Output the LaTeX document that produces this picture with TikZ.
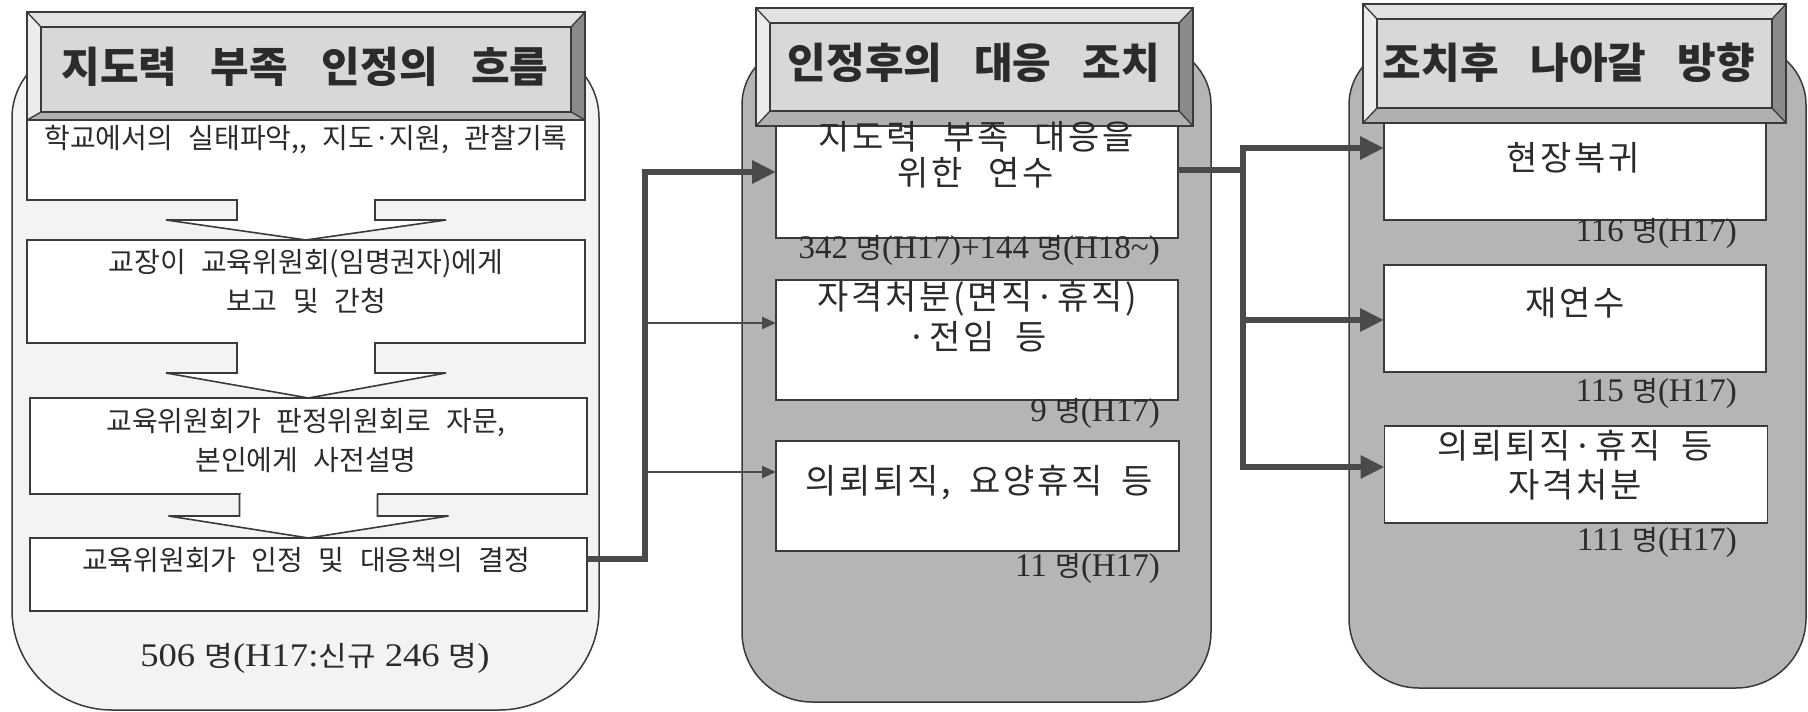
\documentclass[tikz,border=0pt]{standalone}
\usepackage{graphicx}
\usepackage{fontspec}
\setmainfont{Liberation Serif}
\newfontfamily\kf{Noto Sans CJK KR}
\newfontfamily\kft{Noto Sans CJK KR}[LetterSpace=8]
\usetikzlibrary{arrows.meta,calc}
\definecolor{pnl}{HTML}{B5B5B5}
\definecolor{pnll}{HTML}{F3F3F3}
\definecolor{edge}{HTML}{3A3A3A}
\definecolor{arr}{HTML}{4A4A4A}
\definecolor{txt}{HTML}{2B2B2B}
\definecolor{face}{HTML}{D8D8D8}
\definecolor{bvtop}{HTML}{E2E2E2}
\definecolor{bvleft}{HTML}{ECECEC}
\definecolor{bvright}{HTML}{8A8A8A}
\definecolor{bvbot}{HTML}{B0B0B0}
\newcommand\my{{\kf\fontsize{28}{28}\selectfont 명}}
\newcommand\wsp[1]{\spaceskip=#1em\relax}
\newcommand\hdrbox[5]{%
  \fill[bvtop] (#2,#3) -- (#4,#3) -- ({#4-14},{#3+15}) -- ({#2+14},{#3+15}) -- cycle;
  \fill[bvleft] (#2,#3) -- ({#2+14},{#3+15}) -- ({#2+14},{#5-#1}) -- (#2,#5) -- cycle;
  \fill[bvright] (#4,#3) -- (#4,#5) -- ({#4-14},{#5-#1}) -- ({#4-14},{#3+15}) -- cycle;
  \fill[bvbot] (#2,#5) -- (#4,#5) -- ({#4-14},{#5-#1}) -- ({#2+14},{#5-#1}) -- cycle;
  \draw[hdrline] (#2,#3) -- ({#2+14},{#3+15}) (#4,#3) -- ({#4-14},{#3+15})
     (#2,#5) -- ({#2+14},{#5-#1}) (#4,#5) -- ({#4-14},{#5-#1});
  \draw[hdrline,fill=face] ({#2+14},{#3+15}) rectangle ({#4-14},{#5-#1});
  \draw[hdrline] (#2,#3) rectangle (#4,#5);
}
\newcommand\blk[3]{%
  \fill[white] ($(#1.south)+(-68,-2)$) rectangle ($(#1.south)+(68,#3)$);
  \draw[blkline, fill=white] ($(#1.south)+(-69,0)$) -- ($(#1.south)+(-69,#3)$) -- ($(#1.south)+(-140,#3)$)
     -- (#2.north) -- ($(#1.south)+(140,#3)$) -- ($(#1.south)+(69,#3)$) -- ($(#1.south)+(69,0)$);
}
\begin{document}
\begin{tikzpicture}[x=1pt,y=-1pt,
  panel/.style={draw=edge, line width=1.5pt},
  box/.style={draw=edge, fill=white, line width=1.6pt, inner sep=0pt, outer sep=0pt},
  hdrline/.style={draw=edge, line width=1.3pt},
  blkline/.style={draw=edge, line width=1.6pt, line join=miter},
  ltxt/.style={font=\kf\fontsize{28}{39}\selectfont, text=txt, align=center, inner sep=0pt},
  mtxt/.style={font=\kft\fontsize{34}{36}\selectfont, text=txt, align=center, inner sep=0pt},
  htxt/.style={font=\kf\bfseries\fontsize{42}{46}\selectfont, text=txt, inner sep=0pt},
  lab/.style={font=\fontsize{33}{36}\selectfont, text=txt, inner sep=0pt},
  thk/.style={draw=arr, line width=6pt, -{Triangle[length=24pt,width=22pt]}},
  thkb/.style={draw=arr, line width=6pt, {Triangle[length=24pt,width=22pt]}-{Triangle[length=24pt,width=22pt]}},
  thn/.style={draw=arr, line width=2.6pt, -{Triangle[length=14pt,width=12pt]}}
]
\useasboundingbox (0,0) rectangle (1808,712);
\fill[white] (0,0) rectangle (1808,712);

% panels
\draw[panel, fill=pnll] (12,400) [rounded corners=70pt] -- (12,48) -- (599,48) -- (599,400)
   [rounded corners=100pt] -- (599,710) -- (12,710) -- cycle;
\draw[panel, fill=pnl] (742,400) [rounded corners=60pt] -- (742,45) -- (1211,45) -- (1211,400)
   [rounded corners=70pt] -- (1211,702) -- (742,702) -- cycle;
\draw[panel, fill=pnl] (1349,400) [rounded corners=60pt] -- (1349,45) -- (1806,45) -- (1806,400)
   [rounded corners=70pt] -- (1806,688) -- (1349,688) -- cycle;

% left boxes
\node[box, minimum width=558pt, minimum height=80pt] (b1) at (306,160) {};
\node[box, minimum width=558pt, minimum height=103pt] (b2) at (306,291.5) {};
\node[box, minimum width=557pt, minimum height=96pt] (b3) at (308.5,446) {};
\node[box, minimum width=557pt, minimum height=73pt] (b4) at (308.5,574.5) {};
\blk{b1}{b2}{20}
\blk{b2}{b3}{30}
\blk{b3}{b4}{22}

% middle boxes
\node[box, minimum width=402pt, minimum height=121pt] (bA) at (977,177.5) {};
\node[box, minimum width=402pt, minimum height=120pt] (bB) at (977,340) {};
\node[box, minimum width=403pt, minimum height=110pt] (bC) at (977.5,496) {};

% right boxes
\node[box, minimum width=382pt, minimum height=107pt] (R1) at (1575,166.5) {};
\node[box, minimum width=382pt, minimum height=107pt] (R2) at (1575,318.5) {};
\node[box, minimum width=383pt, minimum height=97pt] (R3) at (1576,474.5) {};

% headers
\hdrbox{8}{27}{12}{585}{120}
\hdrbox{15}{756}{8}{1193}{126}
\hdrbox{15}{1363}{4}{1786}{123}
\node[htxt] (h1) at (305,67) {\wsp{0.8}지도력 부족 인정의 흐름};
\node[htxt] (h2) at (974,63) {\wsp{0.75}인정후의 대응 조치};
\node[htxt] (h3) at (1569,63) {\wsp{0.75}조치후 나아갈 방향};

% connectors
\coordinate (jm) at (645,0);
\coordinate (jr) at (1243,0);
\coordinate (out4) at ([yshift=15.5pt]b4.east);
\coordinate (inA) at ([yshift=5.5pt]bA.west);
\coordinate (inB) at ([yshift=17pt]bB.west);
\coordinate (inC) at ([yshift=24pt]bC.west);
\draw[thk] (out4) -| (inA -| jm) -- (inA);
\draw[thn] (inB -| jm) -- (inB);
\draw[thn] (inC -| jm) -- (inC);
\coordinate (outA) at ([yshift=7.5pt]bA.east);
\coordinate (in1) at ([yshift=18.5pt]R1.west);
\coordinate (in2) at ([yshift=-1.5pt]R2.west);
\coordinate (in3) at ([yshift=7.5pt]R3.west);
\draw[thk,-] (outA) -- ([xshift=3pt]outA -| jr);
\draw[thkb] (in1) -- (in1 -| jr) -- (in3 -| jr) -- (in3);
\draw[thk] (in2 -| jr) -- (in2);

% texts left
\node[ltxt] (t1) at (306,140) {\wsp{0.55}학교에서의 실태파악,, 지도·지원, 관찰기록};
\node[ltxt] (t2) at (306,281.5) {\wsp{0.55}교장이 교육위원회(임명권자)에게\\\wsp{0.55}보고 및 간청};
\node[ltxt] (t3) at (306,441) {\wsp{0.55}교육위원회가 판정위원회로 자문,\\\wsp{0.55}본인에게 사전설명};
\node[ltxt] (t4) at (306,560) {\wsp{0.55}교육위원회가 인정 및 대응책의 결정};
% texts middle
\node[mtxt] (tA) at (976,155) {\wsp{0.75}지도력 부족 대응을\\\wsp{0.75}위한 연수};
\node[mtxt, font=\kft\fontsize{34}{40}\selectfont] (tB) at (977,317) {자격처분(면직·휴직)\\\wsp{0.6}·전임 등};
\node[mtxt] (tC) at (979,483) {\wsp{0.55}의뢰퇴직, 요양휴직 등};
% texts right
\node[mtxt] (tR1) at (1573,158) {현장복귀};
\node[mtxt] (tR2) at (1575,303) {재연수};
\node[mtxt, font=\kft\fontsize{34}{39}\selectfont] (tR3) at (1575,465) {\wsp{0.6}의뢰퇴직·휴직 등\\자격처분};

% labels
\node[lab] (L0) at (315,658) {\scalebox{1.11}[1]{506 \my(H17:{\kf\fontsize{28}{28}\selectfont 신규} 246 \my)}};
\node[lab, anchor=east] (LA) at (1160,250) {342 \my(H17)+144 \my(H18\textasciitilde)};
\node[lab, anchor=east] (LB) at (1160,413) {9 \my(H17)};
\node[lab, anchor=east] (LC) at (1160,568) {11 \my(H17)};
\node[lab, anchor=east] (LR1) at (1737,233) {116 \my(H17)};
\node[lab, anchor=east] (LR2) at (1737,393) {115 \my(H17)};
\node[lab, anchor=east] (LR3) at (1737,542) {111 \my(H17)};
\end{tikzpicture}
\end{document}
